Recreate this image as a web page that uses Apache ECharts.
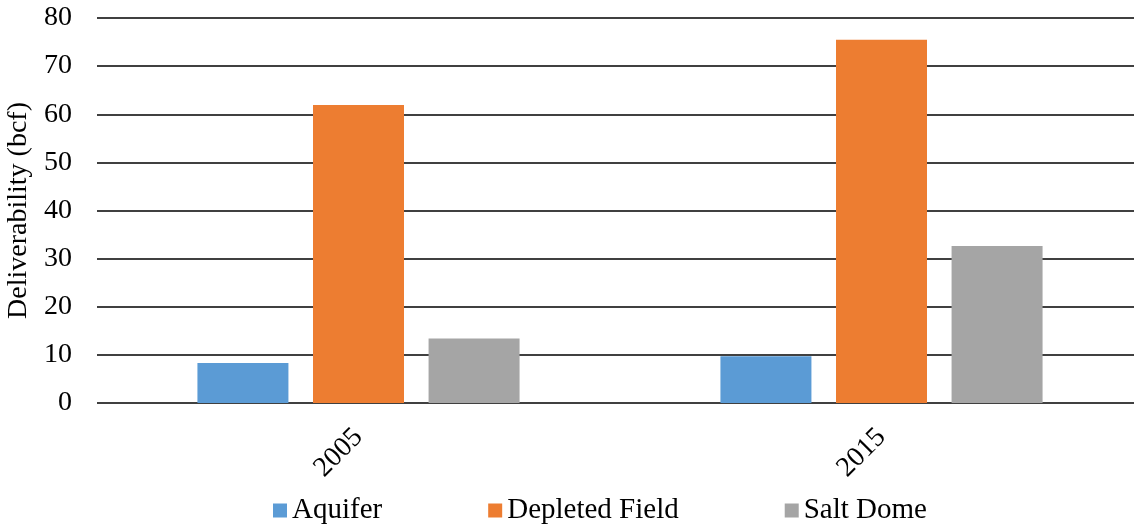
<!DOCTYPE html>
<html>
<head>
<meta charset="utf-8">
<script src="https://cdn.jsdelivr.net/npm/echarts@6/dist/echarts.min.js"></script>
<style>
  html, body { margin: 0; padding: 0; background: #fff; }
  #chart { width: 1134px; height: 525px; }
</style>
</head>
<body>
<div id="chart"></div>
<script>
// Storage deliverability by field type (bcf)
const years = ['2005', '2015'];
const aquifer = [8.3, 9.7];
const depletedField = [61.9, 75.5];
const saltDome = [13.4, 32.6];
const seriesNames = ['Aquifer', 'Depleted Field', 'Salt Dome'];
const colors = ['#5B9BD5', '#ED7D31', '#A5A5A5'];

const font = '"Liberation Serif", "Times New Roman", serif';
const chart = echarts.init(document.getElementById('chart'));

const values = [aquifer, depletedField, saltDome];

chart.setOption({
  animation: false,
  textStyle: { fontFamily: font, color: '#000' },
  grid: {
    left: 97, right: -9, top: 18, bottom: 122,
    containLabel: false,
    outerBoundsMode: 'none'
  },
  legend: {
    bottom: -5,
    left: 268,
    itemWidth: 14,
    itemHeight: 14,
    itemGap: 106,
    icon: 'rect',
    textStyle: { fontFamily: font, fontSize: 29, color: '#000', padding: [0, 0, 0, 0] },
    data: seriesNames
  },
  xAxis: {
    type: 'category',
    data: years,
    axisLine: { show: false },
    axisTick: { show: false },
    axisLabel: { rotate: 45, fontFamily: font, fontSize: 28, color: '#000', margin: 30 }
  },
  yAxis: {
    type: 'value',
    min: 0,
    max: 80,
    interval: 10,
    name: 'Deliverability (bcf)',
    nameLocation: 'middle',
    nameGap: 57,
    nameTextStyle: { fontFamily: font, fontSize: 28, color: '#000' },
    axisLine: { show: false },
    axisTick: { show: false },
    axisLabel: { fontFamily: font, fontSize: 28, color: '#000', margin: 25 },
    splitLine: { lineStyle: { color: '#000', width: 1.5 } }
  },
  series: seriesNames.map((name, i) => ({
    name: name,
    type: 'bar',
    data: values[i],
    barWidth: 91,
    barGap: '27%',
    itemStyle: { color: colors[i] }
  }))
});
</script>
</body>
</html>
